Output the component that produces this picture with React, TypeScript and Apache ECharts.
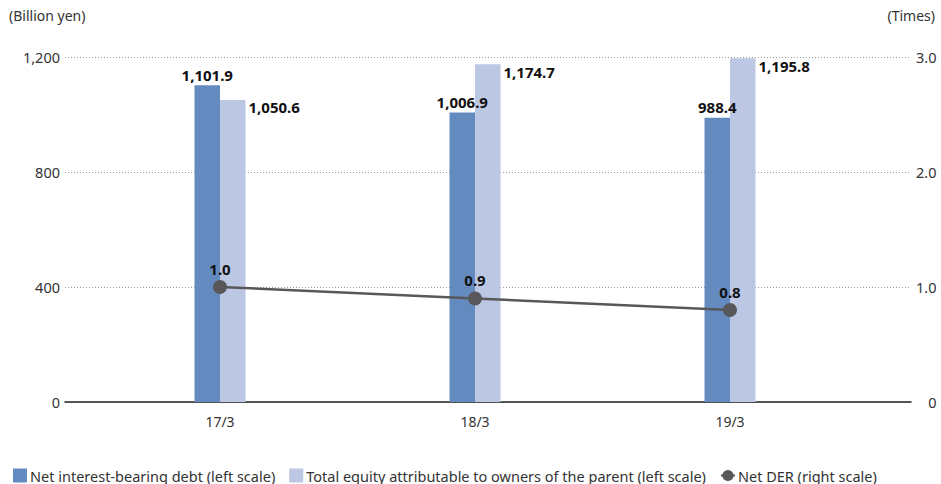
import React, { useEffect, useRef } from "react";
import * as echarts from "echarts";

const categories = ["17/3", "18/3", "19/3"];
const netDebt = [1101.9, 1006.9, 988.4];
const totalEquity = [1050.6, 1174.7, 1195.8];
const netDer = [1.0, 0.9, 0.8];
const leftTicks = { min: 0, max: 1200, interval: 400 };
const rightTicks = { min: 0, max: 3, interval: 1 };

const FONT = "'Noto Sans', sans-serif";
const DARK = "#648bc0";
const LIGHT = "#bbc7e3";
const GREY = "#58585a";

const fmtYen = (v: number) =>
  v.toLocaleString("en-US", { minimumFractionDigits: 1, maximumFractionDigits: 1 });

export default function App() {
  const ref = useRef<HTMLDivElement>(null);

  useEffect(() => {
    if (!ref.current) return;
    const chart = echarts.init(ref.current, undefined, { renderer: "svg" });
    const tickText = { color: "#333", fontSize: 14, fontFamily: FONT };
    const valueLabel = { fontSize: 15, fontWeight: "bold" as const, color: "#111", fontFamily: FONT };

    chart.setOption({
      animation: false,
      textStyle: { fontFamily: FONT },
      grid: [
        // outer frame carrying the two visible scales
        { left: 65, right: 30, top: 57, bottom: 82 },
        // inner band where the three periods sit
        { left: 92.5, right: 83.5, top: 57, bottom: 82 },
      ],
      graphic: [
        { type: "text", left: 9, top: 8, style: { text: "(Billion yen)", ...tickText, fill: "#333" } },
        { type: "text", right: 6, top: 8, style: { text: "(Times)", ...tickText, fill: "#333" } },
      ],
      legend: {
        left: 8,
        top: 463,
        itemWidth: 14,
        itemHeight: 14,
        itemGap: 14,
        textStyle: { ...tickText, fontSize: 14.5, padding: [0, 0, 0, -2] },
        data: [
          { name: "Net interest-bearing debt (left scale)", icon: "rect" },
          { name: "Total equity attributable to owners of the parent (left scale)", icon: "rect" },
          { name: "Net DER (right scale)" },
        ],
      },
      xAxis: [
        {
          type: "value",
          gridIndex: 0,
          min: 0,
          max: 1,
          axisLine: { show: true, onZero: false, lineStyle: { color: "#222", width: 1.5 } },
          axisTick: { show: false },
          axisLabel: { show: false },
          splitLine: { show: false },
        },
        {
          type: "category",
          gridIndex: 1,
          data: categories,
          axisLine: { show: false },
          axisTick: { show: false },
          axisLabel: { ...tickText, margin: 12 },
        },
      ],
      yAxis: [
        {
          type: "value",
          gridIndex: 0,
          position: "left",
          ...leftTicks,
          axisLine: { show: false },
          axisTick: { show: false },
          axisLabel: {
            ...tickText,
            fontSize: 14.5,
            margin: 5,
            formatter: (v: number) => v.toLocaleString("en-US"),
          },
          splitLine: { show: true, lineStyle: { color: "#9a9a9a", type: [1, 2], width: 1 } },
        },
        {
          type: "value",
          gridIndex: 0,
          position: "right",
          ...rightTicks,
          axisLine: { show: false },
          axisTick: { show: false },
          axisLabel: {
            ...tickText,
            fontSize: 14.5,
            margin: 5,
            // figure + punctuation spaces keep the "0" flush right with "1.0", "2.0", "3.0"
            formatter: (v: number) => (v === 0 ? "\u2007\u20080" : v.toFixed(1)),
          },
          splitLine: { show: false },
        },
        { type: "value", gridIndex: 1, ...leftTicks, show: false },
        { type: "value", gridIndex: 1, ...rightTicks, show: false },
      ],
      series: [
        {
          name: "Net interest-bearing debt (left scale)",
          type: "bar",
          xAxisIndex: 1,
          yAxisIndex: 2,
          data: netDebt,
          barWidth: 25.5,
          barGap: "0%",
          itemStyle: { color: DARK },
          label: {
            show: true,
            position: "top",
            distance: 3,
            ...valueLabel,
            formatter: (p: any) => fmtYen(p.value),
          },
        },
        {
          name: "Total equity attributable to owners of the parent (left scale)",
          type: "bar",
          xAxisIndex: 1,
          yAxisIndex: 2,
          data: totalEquity,
          barWidth: 25.5,
          barGap: "0%",
          itemStyle: { color: LIGHT },
          label: {
            show: true,
            position: ["100%", 0],
            align: "left",
            verticalAlign: "top",
            offset: [3, 0],
            ...valueLabel,
            formatter: (p: any) => fmtYen(p.value),
          },
        },
        {
          name: "Net DER (right scale)",
          type: "line",
          xAxisIndex: 1,
          yAxisIndex: 3,
          data: netDer,
          symbol: "circle",
          symbolSize: 14,
          itemStyle: { color: GREY },
          lineStyle: { color: GREY, width: 2.5 },
          z: 5,
          label: {
            show: true,
            position: "top",
            distance: 4,
            ...valueLabel,
            formatter: (p: any) => p.value.toFixed(1),
          },
        },
      ],
    });

    return () => chart.dispose();
  }, []);

  return <div ref={ref} style={{ width: 941, height: 484, position: "absolute", left: 0, top: 0 }} />;
}
